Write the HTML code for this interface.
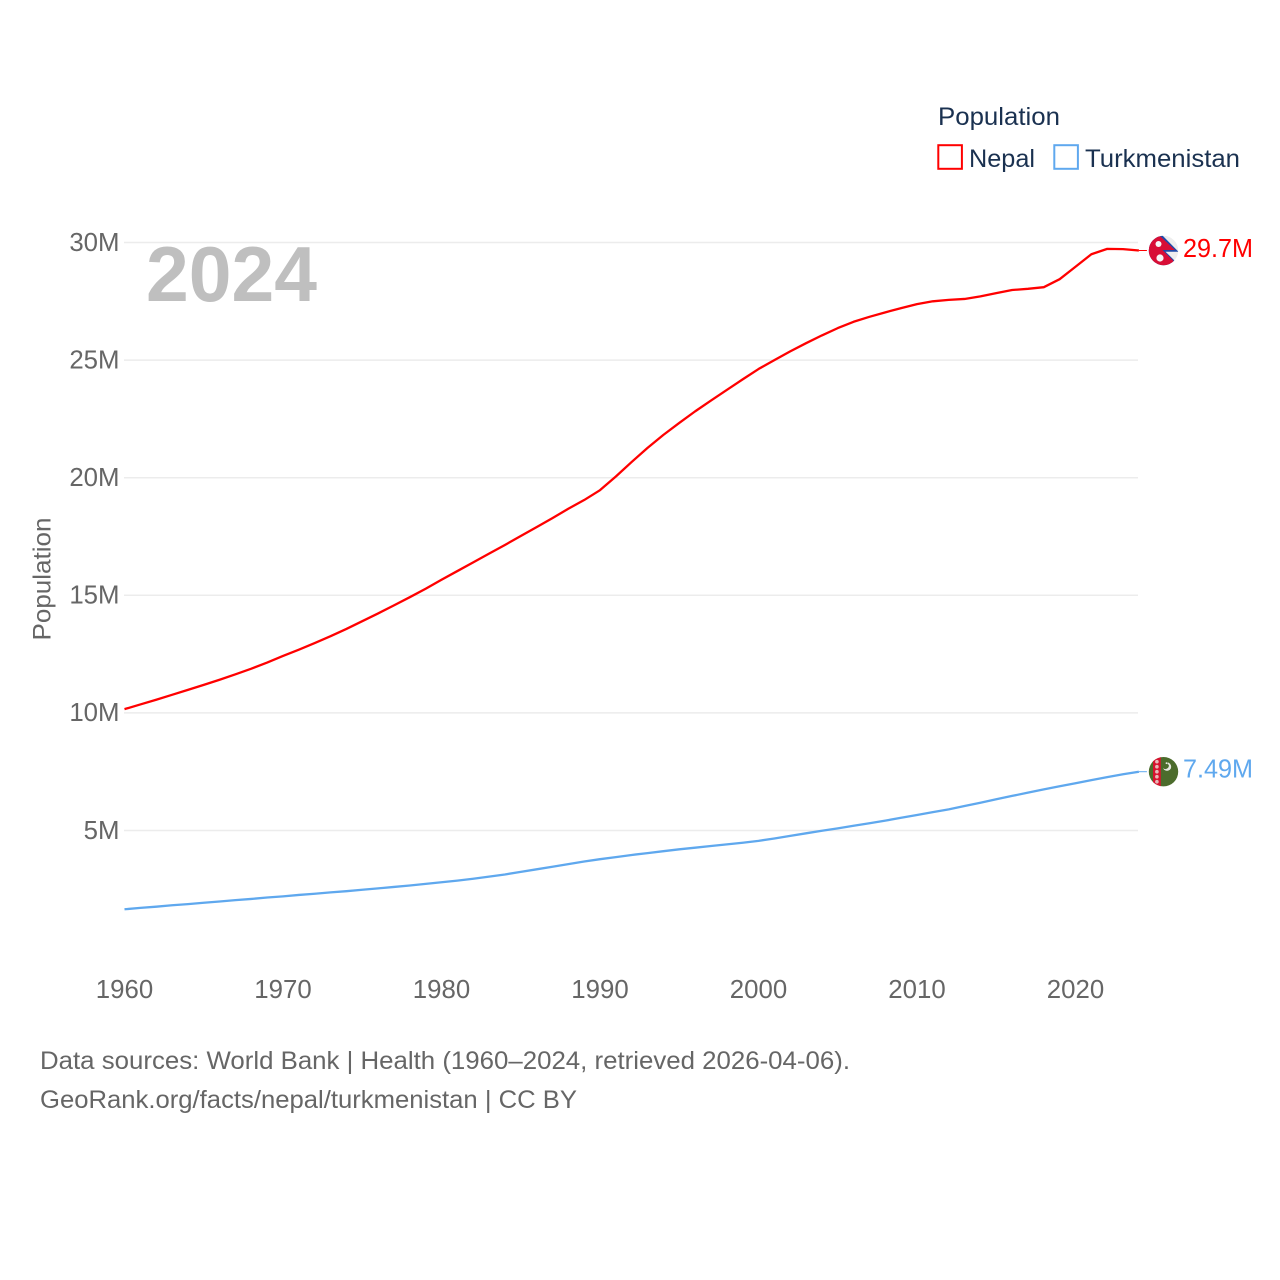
<!DOCTYPE html>
<html lang="en">
<head>
<meta charset="utf-8">
<title>Population: Nepal and Turkmenistan</title>
<style>
  html, body { margin: 0; padding: 0; background: #fff; }
  svg { display: block; font-family: "Liberation Sans", sans-serif; }
</style>
</head>
<body>
<svg id="chart" xmlns="http://www.w3.org/2000/svg" width="1280" height="1280" viewBox="0 0 1280 1280">
  <defs>
    <clipPath id="flag-clip-np"><circle cx="0" cy="0" r="14.7"></circle></clipPath>
    <clipPath id="flag-clip-tm"><circle cx="0" cy="0" r="14.7"></circle></clipPath>
  </defs>
  <g id="grid"></g>
  <g id="y-ticks"></g>
  <g id="x-ticks"></g>
  <text x="146" y="301" font-size="78" font-weight="700" fill="#bfbfbf" textLength="171" lengthAdjust="spacingAndGlyphs">2024</text>
  <text transform="translate(50.5,640.5) rotate(-90)" font-size="25" fill="#666" textLength="123" lengthAdjust="spacingAndGlyphs">Population</text>
  <g id="series"></g>
  <g id="flags"></g>

  <g>
    <text x="938" y="125" font-size="25" fill="#1a3150" textLength="122" lengthAdjust="spacingAndGlyphs">Population</text>
    <rect x="938.3" y="145.2" width="23.6" height="23.6" fill="#fff" stroke="#ff0000" stroke-width="2"></rect>
    <text x="969" y="167" font-size="25" fill="#1a3150" textLength="66" lengthAdjust="spacingAndGlyphs">Nepal</text>
    <rect x="1054.3" y="145.2" width="23.6" height="23.6" fill="#fff" stroke="#5fa8ee" stroke-width="2"></rect>
    <text x="1085" y="167" font-size="25" fill="#1a3150" textLength="155" lengthAdjust="spacingAndGlyphs">Turkmenistan</text>
  </g>

  <text x="40" y="1069" font-size="25" fill="#666" textLength="810" lengthAdjust="spacingAndGlyphs">Data sources: World Bank | Health (1960–2024, retrieved 2026-04-06).</text>
  <text x="40" y="1108" font-size="25" fill="#666" textLength="537" lengthAdjust="spacingAndGlyphs">GeoRank.org/facts/nepal/turkmenistan | CC BY</text>
</svg>

<script>
const startYear = 1960;
const yTicks = [5, 10, 15, 20, 25, 30];
const yTickLabels = ['5M', '10M', '15M', '20M', '25M', '30M'];
const xTicks = [1960, 1970, 1980, 1990, 2000, 2010, 2020];
const nepalValues = [
  10.16, 10.36, 10.56, 10.77, 10.98, 11.19, 11.41, 11.64, 11.88, 12.14,
  12.42, 12.69, 12.97, 13.26, 13.57, 13.9, 14.23, 14.57, 14.92, 15.28,
  15.66, 16.03, 16.4, 16.77, 17.14, 17.52, 17.9, 18.28, 18.68, 19.05,
  19.47, 20.05, 20.67, 21.27, 21.82, 22.33, 22.82, 23.28, 23.73, 24.18,
  24.62, 25.0, 25.37, 25.72, 26.05, 26.36, 26.63, 26.84, 27.03, 27.21,
  27.38, 27.5, 27.56, 27.6, 27.71, 27.85, 27.98, 28.03, 28.1, 28.44,
  28.97, 29.5, 29.73, 29.72, 29.66
];
const turkmenistanValues = [
  1.65, 1.71, 1.76, 1.82, 1.87, 1.93, 1.98, 2.04, 2.09, 2.15,
  2.2, 2.26, 2.31, 2.37, 2.42, 2.48, 2.54, 2.6, 2.66, 2.73,
  2.8, 2.87, 2.95, 3.04, 3.13, 3.24, 3.35, 3.46, 3.57, 3.68,
  3.78, 3.87, 3.96, 4.04, 4.12, 4.2, 4.27, 4.34, 4.41, 4.48,
  4.56, 4.66, 4.77, 4.88, 4.99, 5.09, 5.2, 5.31, 5.42, 5.54,
  5.66, 5.78, 5.9, 6.04, 6.18, 6.33, 6.47, 6.61, 6.75, 6.88,
  7.01, 7.14, 7.27, 7.39, 7.5
];
const nepalLabel = '29.7M';
const turkmenistanLabel = '7.49M';

const SVG_NS = 'http://www.w3.org/2000/svg';
function xScale(year) { return 124.5 + (year - 1960) * 15.85; }
function yScale(value) { return 948.1 - value * 23.52; }

function make(tag, attrs, parent) {
  const el = document.createElementNS(SVG_NS, tag);
  for (const key in attrs) el.setAttribute(key, attrs[key]);
  parent.appendChild(el);
  return el;
}

const gridGroup = document.getElementById('grid');
const yTickGroup = document.getElementById('y-ticks');
yTicks.forEach(function (tick, i) {
  const line = make('line', { x1: 124, x2: 1138, y1: yScale(tick), y2: yScale(tick), stroke: '#ececec', 'stroke-width': 1.5 }, gridGroup);
  
  
  const label = make('text', { x: 119.5, y: yScale(tick) + 8.3, 'text-anchor': 'end', 'font-size': 25.8, fill: '#666' }, yTickGroup);
  
  
  label.textContent = yTickLabels[i];
});

const xTickGroup = document.getElementById('x-ticks');
xTicks.forEach(function (tick) {
  const label = make('text', { x: xScale(tick), y: 998, 'text-anchor': 'middle', 'font-size': 25.8, fill: '#666' }, xTickGroup);
  
  
  label.textContent = tick;
});

function pointsFor(values) {
  return values.map(function (v, i) {
    return xScale(startYear + i).toFixed(2) + ',' + yScale(v).toFixed(2);
  }).join(' ');
}

const seriesGroup = document.getElementById('series');

const nepalLine = make('polyline', { points: pointsFor(nepalValues), fill: 'none', stroke: '#ff0000', 'stroke-width': 2.3, 'stroke-linejoin': 'round' }, seriesGroup);



const turkmenistanLine = make('polyline', { points: pointsFor(turkmenistanValues), fill: 'none', stroke: '#5fa8ee', 'stroke-width': 2.3, 'stroke-linejoin': 'round' }, seriesGroup);



const flagsGroup = document.getElementById('flags');
const lastNepal = nepalValues[nepalValues.length - 1];
const lastTurkmenistan = turkmenistanValues[turkmenistanValues.length - 1];
const lastX = xScale(startYear + nepalValues.length - 1);

const nepalConnector = make('line', { x1: lastX, x2: lastX + 8, y1: yScale(lastNepal), y2: yScale(lastNepal), stroke: '#ff0000', 'stroke-width': 1 }, flagsGroup);



const turkmenistanConnector = make('line', { x1: lastX, x2: lastX + 8, y1: yScale(lastTurkmenistan), y2: yScale(lastTurkmenistan), stroke: '#5fa8ee', 'stroke-width': 1 }, flagsGroup);



/* Nepal flag marker */
const npFlag = make('g', { transform: 'translate(1163.5,' + yScale(lastNepal) + ')', 'clip-path': 'url(#flag-clip-np)' }, flagsGroup);


make('rect', { x: -15, y: -15, width: 30, height: 30, fill: '#eeeeee' }, npFlag);
make('polygon', { points: '-16,-18 -2,-16 15,1.2 2,1.2 15,14 15,16 -16,16', fill: '#1f4aa8' }, npFlag);
make('polygon', { points: '-16,-15.5 -3,-14 11.5,-0.5 -1,-0.5 11.5,12 11.5,16 -16,16', fill: '#d80e36' }, npFlag);
make('circle', { cx: -5, cy: -6.5, r: 3, fill: '#f6f6f6' }, npFlag);
make('circle', { cx: -3.5, cy: 7.5, r: 3.6, fill: '#f6f6f6' }, npFlag);

/* Turkmenistan flag marker */
const tmFlag = make('g', { transform: 'translate(1163.5,' + yScale(lastTurkmenistan) + ')', 'clip-path': 'url(#flag-clip-tm)' }, flagsGroup);


make('rect', { x: -15, y: -15, width: 30, height: 30, fill: '#4c6c2c' }, tmFlag);
make('rect', { x: -10.5, y: -15, width: 7.8, height: 30, fill: '#d8122f' }, tmFlag);
[-10, -5, 0, 5, 10].forEach(function (dy) {
  make('circle', { cx: -6.6, cy: dy, r: 1.8, fill: '#e8b8b8' }, tmFlag);
});
make('circle', { cx: 3.5, cy: -5, r: 4.2, fill: '#e6e8e0' }, tmFlag);
make('circle', { cx: 1.8, cy: -6.2, r: 3.6, fill: '#4c6c2c' }, tmFlag);
make('circle', { cx: 5, cy: -8, r: 0.9, fill: '#e6e8e0' }, tmFlag);
make('circle', { cx: 3, cy: -8.5, r: 0.9, fill: '#e6e8e0' }, tmFlag);
make('circle', { cx: 6.4, cy: -6, r: 0.9, fill: '#e6e8e0' }, tmFlag);

const nepalValueLabel = make('text', { x: 1183, y: yScale(29.7) + 7.6, 'font-size': 25.5, fill: '#ff0000', textLength: 70, lengthAdjust: 'spacingAndGlyphs' }, flagsGroup);


nepalValueLabel.textContent = nepalLabel;

const turkmenistanValueLabel = make('text', { x: 1183, y: yScale(7.49) + 5.4, 'font-size': 25.5, fill: '#5fa8ee', textLength: 70, lengthAdjust: 'spacingAndGlyphs' }, flagsGroup);


turkmenistanValueLabel.textContent = turkmenistanLabel;
</script>
</body>
</html>
